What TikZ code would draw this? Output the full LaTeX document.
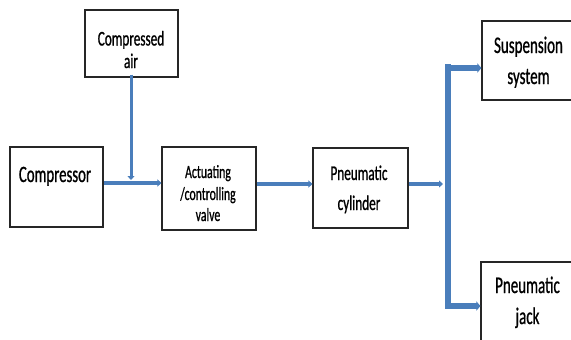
\documentclass[tikz,border=0pt]{standalone}
\usepackage{fontspec}
\setmainfont{Carlito}[FakeStretch=0.63,FakeBold=0.8]
\usetikzlibrary{arrows.meta}
\definecolor{arrowblue}{RGB}{74,126,187}
\tikzset{
  box/.style={draw=black!85, line width=1.1pt, rectangle, inner sep=0pt},
  lbl/.style={anchor=base, inner sep=0pt, text=black},
  flow/.style={draw=arrowblue, line width=4pt, -{Triangle[length=4pt,width=7pt]}},
  bar/.style={draw=arrowblue, line width=6pt},
  branch/.style={draw=arrowblue, line width=6.5pt, -{Triangle[length=4pt,width=9pt]}},
}
\begin{document}
\begin{tikzpicture}[x=1pt,y=-1pt]
\useasboundingbox (0,0) rectangle (571,340);
% boxes
\node[box, minimum width=93pt, minimum height=67pt] (air) at (131.5,43.5) {};
\node[box, minimum width=93pt, minimum height=80pt] (comp) at (56.5,187) {};
\node[box, minimum width=94pt, minimum height=83pt] (valve) at (209,188.5) {};
\node[box, minimum width=95pt, minimum height=80pt] (cyl) at (360.5,188) {};
\node[box, minimum width=100pt, minimum height=79pt] (susp) at (532,60.5) {};
\node[box, minimum width=100pt, minimum height=90pt] (jack) at (531,307) {};
% texts
\node[lbl, font=\fontsize{21}{21}\selectfont] (t1) at (131,45.5) {Compressed};
\node[lbl, font=\fontsize{21}{21}\selectfont] (t2) at (131,68) {air};
\node[lbl, font=\fontsize{23.5}{23.5}\selectfont] (t3) at (55,182) {Compressor};
\node[lbl, font=\fontsize{18.7}{18.7}\selectfont] (t4) at (208,178) {Actuating};
\node[lbl, font=\fontsize{18.7}{18.7}\selectfont] (t5) at (208,200) {/controlling};
\node[lbl, font=\fontsize{18.7}{18.7}\selectfont] (t6) at (208,221) {valve};
\node[lbl, font=\fontsize{21}{21}\selectfont] (t7) at (359,180) {Pneumatic};
\node[lbl, font=\fontsize{21}{21}\selectfont] (t8) at (359,210) {cylinder};
\node[lbl, font=\fontsize{23.8}{23.8}\selectfont] (t9) at (528.5,53) {Suspension};
\node[lbl, font=\fontsize{23.8}{23.8}\selectfont] (t10) at (528.5,84) {system};
\node[lbl, font=\fontsize{23.8}{23.8}\selectfont] (t11) at (527.5,293) {Pneumatic};
\node[lbl, font=\fontsize{23.8}{23.8}\selectfont] (t12) at (527.5,324) {jack};
% connectors
\coordinate (join) at (131,180);
\coordinate (split) at (443,184);
\coordinate (bartop) at (448,64);
\coordinate (barbot) at (448,309);
\draw[flow, line width=3pt] ([yshift=3pt]air.south -| join) -- (join);
\draw[flow] (comp.east |- 0,183) -- (valve.west |- 0,183);
\draw[flow] (valve.east |- 0,184) -- (cyl.west |- 0,184);
\draw[flow] (cyl.east |- split) -- (split);
\draw[bar] (bartop) -- (barbot);
\draw[branch] ([xshift=-3pt]bartop |- 0,68) -- (susp.west |- 0,68);
\draw[branch] ([xshift=-3pt]barbot |- 0,306) -- (jack.west |- 0,306);
\end{tikzpicture}
\end{document}
